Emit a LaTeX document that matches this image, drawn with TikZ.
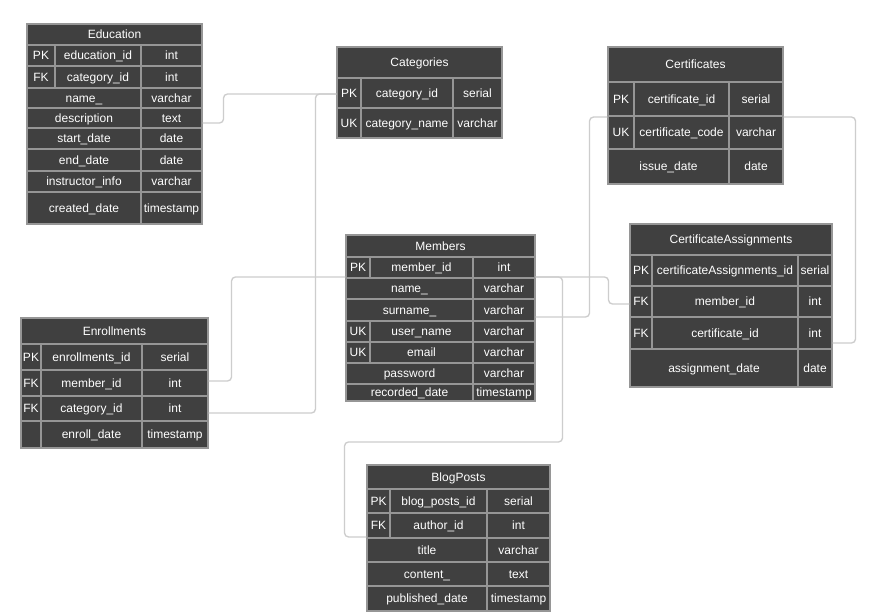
\documentclass[tikz,border=0pt]{standalone}
\usepackage{fontspec}
\setmainfont{Liberation Sans}
\definecolor{cellc}{RGB}{64,64,64}
\definecolor{gridc}{RGB}{150,150,150}
\definecolor{connc}{RGB}{205,205,205}
\tikzset{
  cellbox/.style={draw=gridc, line width=0.8pt, fill=cellc, text=white, inner sep=0pt, text height=6.5pt, text depth=0pt, font=\fontsize{9}{10}\selectfont},
  conn/.style={draw=connc, line width=1pt, rounded corners=3pt}
}
\newcommand\tcell[6]{\node[cellbox, minimum width={((#4)-(#2))*0.75pt}, minimum height={((#5)-(#3))*0.75pt}] (#1) at ({((#2)+(#4))/2},{((#3)+(#5))/2}) {#6};}
\newcommand\thead[3]{\tcell{\tp-h}{\xa}{#1}{\xd}{#2}{#3}}
\newcommand\krow[6]{\tcell{\tp-#1k}{\xa}{#2}{\xb}{#3}{#4}\tcell{\tp-#1f}{\xb}{#2}{\xc}{#3}{#5}\tcell{\tp-#1t}{\xc}{#2}{\xd}{#3}{#6}}
\newcommand\frow[5]{\tcell{\tp-#1f}{\xa}{#2}{\xc}{#3}{#4}\tcell{\tp-#1t}{\xc}{#2}{\xd}{#3}{#5}}
\newcommand\setcols[5]{\def\tp{#1}\def\xa{#2}\def\xb{#3}\def\xc{#4}\def\xd{#5}}
\begin{document}
\begin{tikzpicture}[x=0.75pt,y=-0.75pt]
\useasboundingbox (0,0) rectangle (889,611);
\fill[white] (0,0) rectangle (889,611);
% Education
\setcols{edu}{27}{55}{141}{202}
\thead{24}{45}{Education}
\krow{1}{45}{66}{PK}{education\_id}{int}
\krow{2}{66}{88}{FK}{category\_id}{int}
\frow{3}{88}{108}{name\_}{varchar}
\frow{4}{108}{128}{description}{text}
\frow{5}{128}{149}{start\_date}{date}
\frow{6}{149}{171}{end\_date}{date}
\frow{7}{171}{192}{instructor\_info}{varchar}
\frow{8}{192}{224}{created\_date}{timestamp}
% Categories
\setcols{cat}{337}{361}{453}{502}
\thead{47}{78}{Categories}
\krow{1}{78}{108}{PK}{category\_id}{serial}
\krow{2}{108}{138}{UK}{category\_name}{varchar}
% Certificates
\setcols{cert}{608}{634}{729}{783}
\thead{47}{82}{Certificates}
\krow{1}{82}{116}{PK}{certificate\_id}{serial}
\krow{2}{116}{149}{UK}{certificate\_code}{varchar}
\frow{3}{149}{184}{issue\_date}{date}
% Members
\setcols{mem}{346}{370}{473}{535}
\thead{235}{257}{Members}
\krow{1}{257}{278}{PK}{member\_id}{int}
\frow{2}{278}{299}{name\_}{varchar}
\frow{3}{299}{321}{surname\_}{varchar}
\krow{4}{321}{342}{UK}{user\_name}{varchar}
\krow{5}{342}{363}{UK}{email}{varchar}
\frow{6}{363}{384}{password}{varchar}
\frow{7}{384}{401}{recorded\_date}{timestamp}
% CertificateAssignments
\setcols{ca}{630}{652}{798}{832}
\thead{224}{255}{CertificateAssignments}
\krow{1}{255}{286}{PK}{certificateAssignments\_id}{serial}
\krow{2}{286}{317}{FK}{member\_id}{int}
\krow{3}{317}{349}{FK}{certificate\_id}{int}
\frow{4}{349}{387}{assignment\_date}{date}
% Enrollments
\setcols{enr}{21}{41}{142}{208}
\thead{318}{344}{Enrollments}
\krow{1}{344}{370}{PK}{enrollments\_id}{serial}
\krow{2}{370}{396}{FK}{member\_id}{int}
\krow{3}{396}{421}{FK}{category\_id}{int}
\krow{4}{421}{448}{}{enroll\_date}{timestamp}
% BlogPosts
\setcols{bp}{367}{390}{487}{550}
\thead{465}{489}{BlogPosts}
\krow{1}{489}{513}{PK}{blog\_posts\_id}{serial}
\krow{2}{513}{538}{FK}{author\_id}{int}
\frow{3}{538}{562}{title}{varchar}
\frow{4}{562}{586}{content\_}{text}
\frow{5}{586}{611}{published\_date}{timestamp}
% connectors
\draw[conn] ([yshift=-3.75pt]edu-4t.east) -- ++(21,0) |- ([yshift=-0.75pt]cat-1k.west);
\draw[conn] ([yshift=-3.4pt]enr-3t.east) -| ([xshift=-15.75pt,yshift=-0.75pt]cat-1k.west) -- ([yshift=-0.75pt]cat-1k.west);
\draw[conn] ([yshift=1.5pt]enr-2t.east) -- ++(23,0) |- ([yshift=-7.1pt]mem-1k.west);
\draw[conn] ([yshift=-7.1pt]mem-1t.east) -- ++(73,0) |- ([yshift=-1.9pt]ca-2k.west);
\draw[conn] ([yshift=-7.1pt]mem-1t.east) -- ++(27,0) -- ++(0,165) -- ++(-218,0) |- ([yshift=-8.6pt]bp-2k.west);
\draw[conn] ([yshift=-5.25pt]mem-3t.east) -- ++(54,0) |- ([yshift=11.6pt]cert-2k.west);
\draw[conn] ([yshift=11.6pt]cert-2t.east) -- ++(72,0) |- ([yshift=-7.5pt]ca-3t.east);
\end{tikzpicture}
\end{document}
